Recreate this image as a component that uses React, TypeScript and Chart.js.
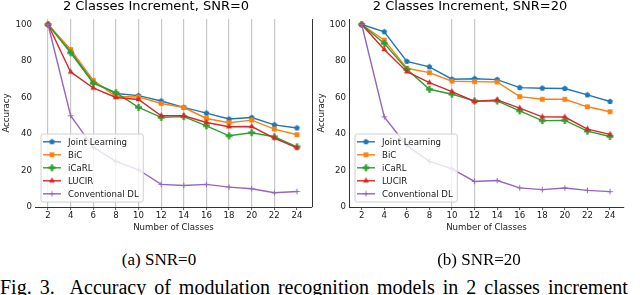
import React, { useEffect, useRef } from 'react';
import { Chart, registerables } from 'chart.js';

Chart.register(...registerables);

// ---------------- data ----------------
const classes = [2, 4, 6, 8, 10, 12, 14, 16, 18, 20, 22, 24];
const xTicks = [2, 4, 6, 8, 10, 12, 14, 16, 18, 20, 22, 24];
const yTicks = [0, 20, 40, 60, 80, 100];
const seriesNames = ['Joint Learning', 'BiC', 'iCaRL', 'LUCIR', 'Conventional DL'];

// SNR = 0
const jointSnr0 = [100, 85.3, 68.4, 62.2, 61.0, 58.1, 54.6, 51.4, 48.2, 49.0, 45.0, 43.3];
const bicSnr0 = [100, 86.3, 69.4, 60.5, 60.3, 56.7, 54.5, 48.5, 46.2, 47.6, 42.7, 39.6];
const icarlSnr0 = [100, 84.5, 67.8, 62.6, 54.6, 49.1, 49.5, 44.5, 39.0, 40.7, 38.5, 33.0];
const lucirSnr0 = [100, 74.0, 65.2, 60.0, 58.9, 50.0, 50.0, 46.3, 44.0, 44.1, 37.8, 32.4];
const convSnr0 = [100, 50.0, 32.7, 25.0, 20.4, 12.4, 11.8, 12.4, 10.9, 10.0, 7.8, 8.5];

// SNR = 20
const jointSnr20 = [100, 96.0, 79.8, 76.8, 70.0, 70.3, 69.8, 65.4, 65.1, 64.9, 61.4, 57.8];
const bicSnr20 = [100, 91.4, 76.0, 73.6, 68.9, 68.7, 68.5, 60.5, 59.0, 59.0, 54.9, 52.2];
const icarlSnr20 = [100, 89.6, 75.4, 64.5, 61.8, 58.1, 58.1, 52.7, 47.3, 47.4, 41.6, 38.6];
const lucirSnr20 = [100, 86.3, 74.1, 68.1, 63.2, 57.8, 58.7, 54.2, 49.4, 49.3, 42.7, 39.8];
const convSnr20 = [100, 49.4, 33.6, 25.0, 20.9, 14.0, 14.5, 10.5, 9.5, 10.4, 9.1, 8.4];

// ---------------- styles ----------------
const COLORS = ['#1f77b4', '#ff7f0e', '#2ca02c', '#d62728', '#9467bd'];
const MARKERS = ['pentagon', 'square', 'plusFilled', 'triangle', 'plus'];
const FAMILY = '"DejaVu Sans", sans-serif';
const SMALL = 8.6;
const TEXT = '#1a1a1a';

function makeMarker(kind: string, color: string): HTMLCanvasElement {
  const c = document.createElement('canvas');
  const s = 11;
  c.width = s;
  c.height = s;
  const g = c.getContext('2d')!;
  const m = s / 2;
  g.fillStyle = color;
  g.strokeStyle = color;
  g.beginPath();
  if (kind === 'pentagon') {
    const r = 3.0;
    for (let k = 0; k < 5; k++) {
      const a = -Math.PI / 2 + (k * 2 * Math.PI) / 5;
      const px = m + r * Math.cos(a);
      const py = m + r * Math.sin(a);
      if (k === 0) g.moveTo(px, py);
      else g.lineTo(px, py);
    }
    g.closePath();
    g.fill();
  } else if (kind === 'square') {
    g.rect(m - 2.4, m - 2.4, 4.8, 4.8);
    g.fill();
  } else if (kind === 'plusFilled') {
    const L = 3.4;
    const t = 1.15;
    g.rect(m - L, m - t, 2 * L, 2 * t);
    g.rect(m - t, m - L, 2 * t, 2 * L);
    g.fill();
  } else if (kind === 'triangle') {
    const r = 3.4;
    g.moveTo(m, m - r);
    g.lineTo(m + r * 0.866, m + r * 0.5);
    g.lineTo(m - r * 0.866, m + r * 0.5);
    g.closePath();
    g.fill();
  } else {
    g.lineWidth = 1;
    g.moveTo(m - 2.8, m);
    g.lineTo(m + 2.8, m);
    g.moveTo(m, m - 2.8);
    g.lineTo(m, m + 2.8);
    g.stroke();
  }
  return c;
}

const boxLegendPlugin = {
  id: 'boxLegend',
  afterDatasetsDraw(chart: any, _args: any, opts: any) {
    const { ctx, chartArea } = chart;
    const ds = chart.data.datasets;
    ctx.save();
    ctx.font = `${SMALL}px ${FAMILY}`;
    let maxW = 0;
    ds.forEach((d: any) => {
      maxW = Math.max(maxW, ctx.measureText(d.label).width);
    });
    const x0 = chartArea.left + opts.offsetX;
    const h = opts.height;
    const w = opts.textX + maxW + 4;
    const y0 = chartArea.bottom - opts.offsetY - h;
    ctx.beginPath();
    if (ctx.roundRect) ctx.roundRect(x0 + 0.5, y0 + 0.5, w, h, 2);
    else ctx.rect(x0 + 0.5, y0 + 0.5, w, h);
    ctx.fillStyle = 'rgba(255,255,255,0.8)';
    ctx.fill();
    ctx.strokeStyle = '#d0d0d0';
    ctx.lineWidth = 1;
    ctx.stroke();
    ds.forEach((d: any, i: number) => {
      const cy = y0 + opts.firstRow + i * opts.rowGap;
      ctx.beginPath();
      ctx.strokeStyle = d.borderColor;
      ctx.lineWidth = d.borderWidth;
      ctx.moveTo(x0 + opts.lineX0, cy);
      ctx.lineTo(x0 + opts.lineX1, cy);
      ctx.stroke();
      const mk = d.pointStyle as HTMLCanvasElement;
      const mx = x0 + (opts.lineX0 + opts.lineX1) / 2;
      ctx.drawImage(mk, mx - mk.width / 2, cy - mk.height / 2);
      ctx.fillStyle = TEXT;
      ctx.textBaseline = 'middle';
      ctx.textAlign = 'left';
      ctx.fillText(d.label, x0 + opts.textX, cy + 0.5);
    });
    ctx.restore();
  },
};

const rightSpinePlugin = {
  id: 'rightSpine',
  afterDraw(chart: any, _args: any, opts: any) {
    if (!opts || !opts.show) return;
    const { ctx, chartArea } = chart;
    ctx.save();
    ctx.strokeStyle = '#333';
    ctx.lineWidth = 1;
    const x = Math.round(chartArea.right) + 0.5;
    ctx.beginPath();
    ctx.moveTo(x, chartArea.top);
    ctx.lineTo(x, chartArea.bottom);
    ctx.stroke();
    ctx.restore();
  },
};

interface Panel {
  title: string;
  series: number[][];
  xMin: number;
  xMax: number;
  gridAt: number[];
  leftSpine: boolean;
  rightSpine: boolean;
  yWidth: number;
  padRight: number;
  yTitlePad: number;
}

const panelA: Panel = {
  title: '2 Classes Increment, SNR=0',
  series: [jointSnr0, bicSnr0, icarlSnr0, lucirSnr0, convSnr0],
  xMin: 0.85,
  xMax: 25.33,
  gridAt: [2, 4, 6, 8, 10, 12, 14, 16, 18, 20, 22],
  leftSpine: false,
  rightSpine: true,
  yWidth: 35,
  padRight: 8,
  yTitlePad: 1.8,
};

const panelB: Panel = {
  title: '2 Classes Increment, SNR=20',
  series: [jointSnr20, bicSnr20, icarlSnr20, lucirSnr20, convSnr20],
  xMin: 0.875,
  xMax: 25.24,
  gridAt: [10, 12],
  leftSpine: true,
  rightSpine: false,
  yWidth: 33,
  padRight: 16,
  yTitlePad: 0.8,
};

function makeChart(canvas: HTMLCanvasElement, p: Panel) {
  const markers = MARKERS.map((m, i) => makeMarker(m, COLORS[i]));
  const datasets = p.series.map((vals, i) => ({
    label: seriesNames[i],
    data: classes.map((c, j) => ({ x: c, y: vals[j] })),
    borderColor: COLORS[i],
    backgroundColor: COLORS[i],
    borderWidth: 1.4,
    pointStyle: markers[i],
    pointRadius: 3,
    pointHoverRadius: 3,
    order: 5 - i,
    tension: 0,
    fill: false,
  }));
  const small = { family: FAMILY, size: SMALL };
  return new Chart(canvas, {
    type: 'line',
    data: { datasets } as any,
    plugins: [boxLegendPlugin, rightSpinePlugin],
    options: {
      animation: false,
      responsive: false,
      maintainAspectRatio: false,
      devicePixelRatio: 1,
      events: [],
      layout: { padding: { left: 0, right: p.padRight, top: 0, bottom: 0 } },
      plugins: {
        legend: { display: false },
        tooltip: { enabled: false },
        title: {
          display: true,
          text: p.title,
          color: '#000',
          font: { family: FAMILY, size: 13, weight: 'normal' },
          padding: { top: -1.2, bottom: 4.6 },
        },
        boxLegend: {
          offsetX: 5.5,
          offsetY: 5.5,
          height: 68,
          firstRow: 8.3,
          rowGap: 13,
          lineX0: 2.5,
          lineX1: 20.5,
          textX: 27.5,
        },
        rightSpine: { show: p.rightSpine },
      } as any,
      scales: {
        x: {
          type: 'linear',
          min: p.xMin,
          max: p.xMax,
          afterBuildTicks: (s: any) => {
            s.ticks = xTicks.map((v) => ({ value: v }));
          },
          afterFit: (s: any) => {
            s.height = 33;
          },
          ticks: {
            font: small,
            color: TEXT,
            padding: 1,
            maxRotation: 0,
            autoSkip: false,
            callback: (v: any) => String(v),
          },
          grid: {
            color: (ctx: any) =>
              ctx.tick && p.gridAt.includes(ctx.tick.value) ? '#c8c8c8' : 'rgba(0,0,0,0)',
            lineWidth: 1.2,
            tickLength: 3,
            tickColor: '#333',
            tickWidth: 0.8,
          },
          border: { display: true, color: '#333', width: 1 },
          title: {
            display: true,
            text: 'Number of Classes',
            font: small,
            color: TEXT,
            padding: { top: 0, bottom: 6.8 },
          },
        },
        y: {
          type: 'linear',
          min: 0,
          max: 103,
          afterBuildTicks: (s: any) => {
            s.ticks = yTicks.map((v) => ({ value: v }));
          },
          afterFit: (s: any) => {
            s.width = p.yWidth;
          },
          ticks: { font: small, color: TEXT, padding: 3 },
          grid: { display: false, drawTicks: false },
          border: { display: p.leftSpine, color: '#333', width: 1 },
          title: {
            display: true,
            text: 'Accuracy',
            font: small,
            color: TEXT,
            padding: { top: p.yTitlePad, bottom: 0 },
          },
        },
      } as any,
    },
  } as any);
}

export default function App() {
  const leftRef = useRef<HTMLCanvasElement>(null);
  const rightRef = useRef<HTMLCanvasElement>(null);

  useEffect(() => {
    const a = makeChart(leftRef.current!, panelA);
    const b = makeChart(rightRef.current!, panelB);
    return () => {
      a.destroy();
      b.destroy();
    };
  }, []);

  const serif = '"Liberation Serif", "Times New Roman", serif';
  const sub: React.CSSProperties = {
    position: 'absolute',
    top: 251,
    width: 318,
    textAlign: 'center',
    fontFamily: serif,
    fontSize: 17,
    lineHeight: '17px',
    whiteSpace: 'pre',
    color: '#000',
  };

  return (
    <div
      style={{
        position: 'fixed',
        left: 0,
        top: 0,
        width: 640,
        height: 295,
        overflow: 'hidden',
        background: '#fff',
      }}
    >
      <canvas ref={leftRef} width={320} height={240} style={{ position: 'absolute', left: 0, top: 0 }} />
      <canvas ref={rightRef} width={324} height={240} style={{ position: 'absolute', left: 316, top: 0 }} />
      <div style={{ ...sub, left: 0 }}>(a) SNR=0</div>
      <div style={{ ...sub, left: 320 }}>(b) SNR=20</div>
      <div
        style={{
          position: 'absolute',
          left: 0,
          top: 277,
          fontFamily: serif,
          fontSize: 20,
          lineHeight: '20px',
          whiteSpace: 'pre',
          color: '#000',
          wordSpacing: '3px',
        }}
      >
        {'Fig. 3.  Accuracy of modulation recognition models in 2 classes increment'}
      </div>
    </div>
  );
}
